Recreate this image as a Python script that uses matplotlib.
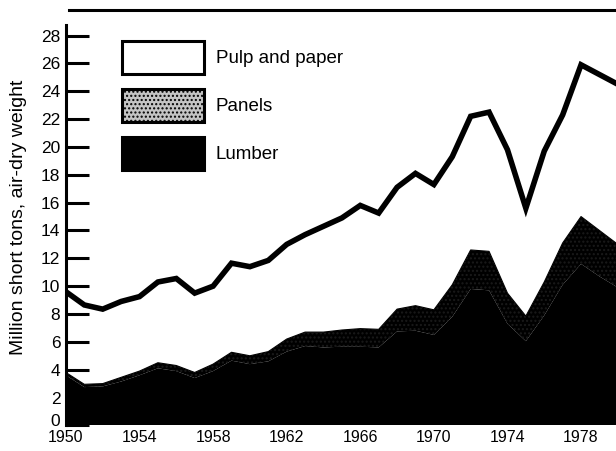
"""
Wood products output 1950-1980: stacked area chart (lumber, panels, pulp and paper).
"""
import matplotlib
matplotlib.use("Agg")
import matplotlib.pyplot as plt
import matplotlib.patches as mpatches
import matplotlib.lines as mlines
import matplotlib.transforms as mtransforms
import numpy as np

plt.rcParams["font.family"] = ["Liberation Sans", "DejaVu Sans"]
plt.rcParams["hatch.color"] = "#1a1a1a"
plt.rcParams["hatch.linewidth"] = 1.0

years = list(range(1950, 1981))

# million short tons, air-dry weight
lumber = [3.6, 2.75, 2.8, 3.15, 3.6, 4.1, 3.9, 3.4, 3.9, 4.65,
          4.4, 4.6, 5.3, 5.7, 5.6, 5.65, 5.65, 5.6, 6.75, 6.8,
          6.5, 7.8, 9.8, 9.7, 7.3, 6.05, 7.9, 10.1, 11.6, 10.7, 9.9]
panels = [0.2, 0.2, 0.2, 0.3, 0.3, 0.4, 0.4, 0.4, 0.5, 0.6,
          0.6, 0.7, 0.9, 1.0, 1.1, 1.2, 1.3, 1.3, 1.6, 1.8,
          1.8, 2.3, 2.8, 2.8, 2.2, 1.8, 2.4, 3.0, 3.4, 3.3, 3.1]
pulp_paper = [5.8, 5.7, 5.35, 5.45, 5.35, 5.8, 6.25, 5.7, 5.6, 6.4,
              6.4, 6.55, 6.8, 7.0, 7.6, 8.05, 8.85, 8.35, 8.75, 9.5,
              9.0, 9.2, 9.6, 10.0, 10.3, 7.75, 9.4, 9.2, 10.9, 11.2, 11.5]

xtick_years = [1950, 1954, 1958, 1962, 1966, 1970, 1974, 1978]
ytick_vals = list(range(0, 29, 2))

x = np.array(years)
y_lumber = np.array(lumber)
y_panels = y_lumber + np.array(panels)
y_total = y_panels + np.array(pulp_paper)

fig = plt.figure(figsize=(6.16, 4.51), dpi=100)
ax = fig.add_axes([0.107, 0.0568, 0.893, 0.8878])

ax.fill_between(x, 0, y_lumber, facecolor="black", linewidth=0)
ax.fill_between(x, y_lumber, y_panels, facecolor="black", hatch="....", linewidth=0)
ax.fill_between(x, y_panels, y_total, facecolor="white", linewidth=0)
ax.plot(x, y_panels, color="black", linewidth=0.8)
ax.plot(x, y_total, color="black", linewidth=4.0, solid_joinstyle="miter")

ax.set_xlim(1950, 1979.9)
ax.set_ylim(0, 28.76)
ax.set_xticks(xtick_years)
ax.set_yticks(ytick_vals)
ax.tick_params(axis="x", length=0, pad=3.5, labelsize=11.5)
ax.tick_params(axis="y", direction="in", length=16.5, width=2.2, pad=4, labelsize=12.5)
# the "0" sits a little higher than its tick, clear of the year labels
zero_lbl = ax.yaxis.get_major_ticks()[0].label1
zero_lbl.set_transform(zero_lbl.get_transform()
                       + mtransforms.ScaledTranslation(0, 0.05, fig.dpi_scale_trans))

for side in ("top", "right", "bottom"):
    ax.spines[side].set_visible(False)
ax.spines["left"].set_linewidth(2.2)

ax.set_ylabel("Million short tons, air-dry weight", fontsize=14)
ax.yaxis.set_label_coords(-0.071, 0.52)

handles = [
    mpatches.Patch(facecolor="white", edgecolor="black", linewidth=2.2, label="Pulp and paper"),
    mpatches.Patch(facecolor="#c4c4c4", edgecolor="black", linewidth=2.2, hatch="....", label="Panels"),
    mpatches.Patch(facecolor="black", edgecolor="black", linewidth=2.2, label="Lumber"),
]
fig.legend(
    handles=handles, loc="upper left", bbox_to_anchor=(0.198, 0.909),
    frameon=False, fontsize=13.5, handlelength=4.37, handleheight=2.33,
    labelspacing=0.8, handletextpad=0.64, borderpad=0, borderaxespad=0,
)

# heavy rule across the top of the figure
fig.add_artist(mlines.Line2D([0.112, 1.0], [0.978, 0.978], transform=fig.transFigure,
                             color="black", linewidth=2.2))

fig.savefig("out.png", dpi=100)
plt.close(fig)
